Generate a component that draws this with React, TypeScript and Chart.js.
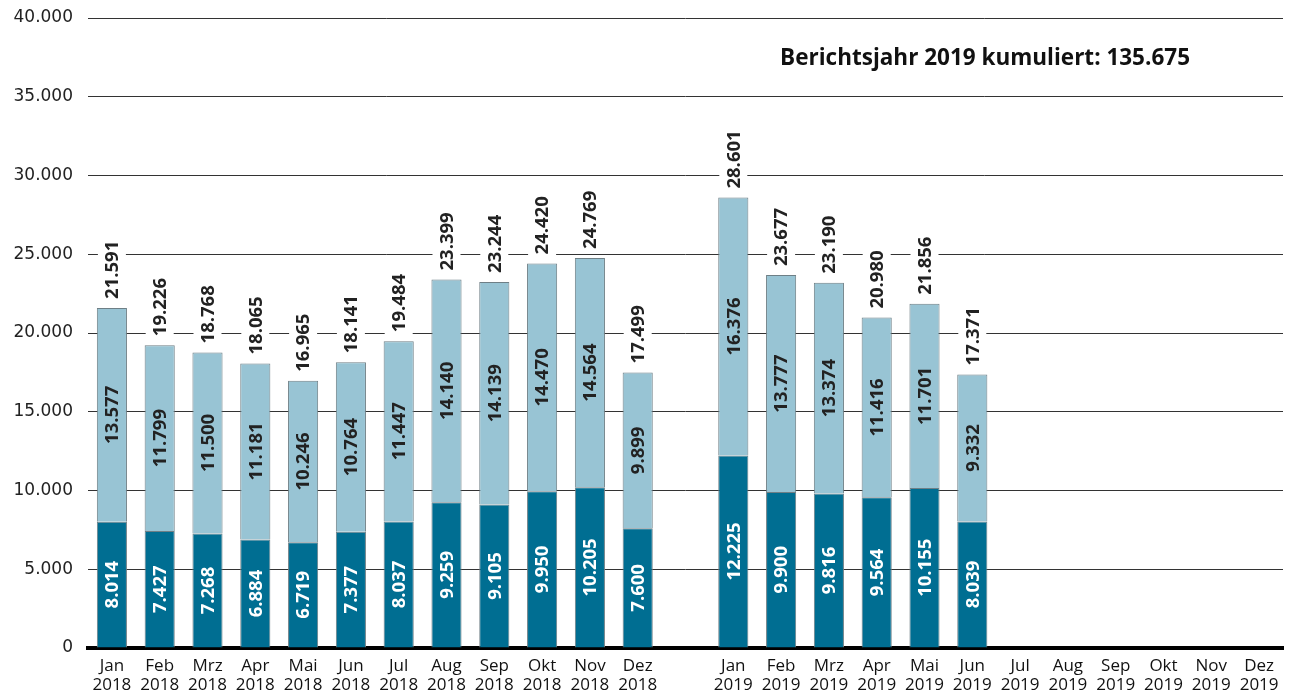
import React, { useEffect, useRef } from "react";
import { Chart, registerables } from "chart.js";

Chart.register(...registerables);

const months = ["Jan", "Feb", "Mrz", "Apr", "Mai", "Jun", "Jul", "Aug", "Sep", "Okt", "Nov", "Dez"];
const categories: (string[] | string)[] = [
  ...months.map((m) => [m, "2018"]),
  "",
  ...months.map((m) => [m, "2019"]),
];

const dark2018 = [8014, 7427, 7268, 6884, 6719, 7377, 8037, 9259, 9105, 9950, 10205, 7600];
const light2018 = [13577, 11799, 11500, 11181, 10246, 10764, 11447, 14140, 14139, 14470, 14564, 9899];
const dark2019 = [12225, 9900, 9816, 9564, 10155, 8039, null, null, null, null, null, null];
const light2019 = [16376, 13777, 13374, 11416, 11701, 9332, null, null, null, null, null, null];

const darkValues = [...dark2018, null, ...dark2019];
const lightValues = [...light2018, null, ...light2019];

const titleText = "Berichtsjahr 2019 kumuliert: 135.675";
const yTicks = [0, 5000, 10000, 15000, 20000, 25000, 30000, 35000, 40000];

const fmt = (v: number) => v.toLocaleString("de-DE");

const DARK = "#006E92";
const LIGHT = "#98C4D4";
const BORDER = "#6E7F86";
const LABEL_FONT = 'bold 18.5px "Open Sans"';

const labelPlugin = {
  id: "labelPlugin",
  afterDatasetsDraw(chart: any) {
    const ctx = chart.ctx;
    const m0 = chart.getDatasetMeta(0);
    const m1 = chart.getDatasetMeta(1);
    ctx.save();
    ctx.font = LABEL_FONT;
    ctx.textBaseline = "middle";
    for (let i = 0; i < darkValues.length; i++) {
      const d = darkValues[i];
      const l = lightValues[i];
      if (d == null || l == null) continue;
      const b0 = m0.data[i];
      const b1 = m1.data[i];
      // dark segment label
      ctx.save();
      ctx.translate(b0.x, (b0.y + b0.base) / 2);
      ctx.rotate(-Math.PI / 2);
      ctx.textAlign = "center";
      ctx.fillStyle = "#FFFFFF";
      ctx.fillText(fmt(d), 0, 1);
      ctx.restore();
      // light segment label
      ctx.save();
      ctx.translate(b1.x, (b1.y + b1.base) / 2);
      ctx.rotate(-Math.PI / 2);
      ctx.textAlign = "center";
      ctx.fillStyle = "#222222";
      ctx.fillText(fmt(l), 0, 1);
      ctx.restore();
      // total label
      const total = d + l;
      const txt = fmt(total);
      const w = ctx.measureText(txt).width;
      ctx.save();
      ctx.translate(b1.x, b1.y - 9);
      ctx.rotate(-Math.PI / 2);
      ctx.fillStyle = "#FFFFFF";
      ctx.fillRect(-3, -14, w + 6, 28);
      ctx.textAlign = "left";
      ctx.fillStyle = "#222222";
      ctx.fillText(txt, 0, 1);
      ctx.restore();
    }
    // title
    ctx.font = 'bold 22.5px "Open Sans"';
    ctx.textAlign = "right";
    ctx.fillStyle = "#111111";
    ctx.fillText(titleText, chart.chartArea.right - 93, 59);
    ctx.restore();
  },
};

export default function App() {
  const ref = useRef<HTMLCanvasElement | null>(null);
  useEffect(() => {
    document.body.style.margin = "0";
    const chart = new Chart(ref.current as HTMLCanvasElement, {
      type: "bar",
      data: {
        labels: categories,
        datasets: [
          {
            data: darkValues,
            backgroundColor: DARK,
            borderColor: BORDER,
            borderWidth: 1,
            barPercentage: 0.63,
            categoryPercentage: 1,
          },
          {
            data: lightValues,
            backgroundColor: LIGHT,
            borderColor: BORDER,
            borderWidth: 1,
            barPercentage: 0.63,
            categoryPercentage: 1,
          },
        ],
      },
      options: {
        animation: false,
        responsive: true,
        maintainAspectRatio: false,
        layout: { padding: { top: 18, right: 12, left: 0, bottom: 0 } },
        plugins: { legend: { display: false }, tooltip: { enabled: false } },
        scales: {
          x: {
            stacked: true,
            grid: { display: false, drawTicks: false, tickLength: 0 },
            border: { display: true, color: "#000000", width: 4 },
            ticks: {
              color: "#111111",
              font: { family: "Open Sans", size: 17, lineHeight: 1.15 },
              padding: 8,
              maxRotation: 0,
              autoSkip: false,
            },
            afterFit: (s: any) => {
              s.height = 47;
              s.paddingLeft = 0;
              s.paddingRight = 0;
            },
          },
          y: {
            stacked: true,
            min: 0,
            max: 40000,
            afterBuildTicks: (s: any) => {
              s.ticks = yTicks.map((v) => ({ value: v }));
            },
            grid: { color: "#333333", lineWidth: 1, drawTicks: false, tickLength: 0 },
            border: { display: false },
            ticks: {
              color: "#222222",
              font: { family: "DejaVu Sans", size: 17 },
              padding: 15,
              callback: (v: any) => fmt(Number(v)),
            },
            afterFit: (s: any) => {
              s.width = 88;
              s.paddingTop = 0;
              s.paddingBottom = 0;
            },
          },
        },
      },
      plugins: [labelPlugin],
    } as any);
    return () => chart.destroy();
  }, []);
  return (
    <div style={{ width: 1295, height: 695, position: "relative" }}>
      <canvas ref={ref} />
    </div>
  );
}
